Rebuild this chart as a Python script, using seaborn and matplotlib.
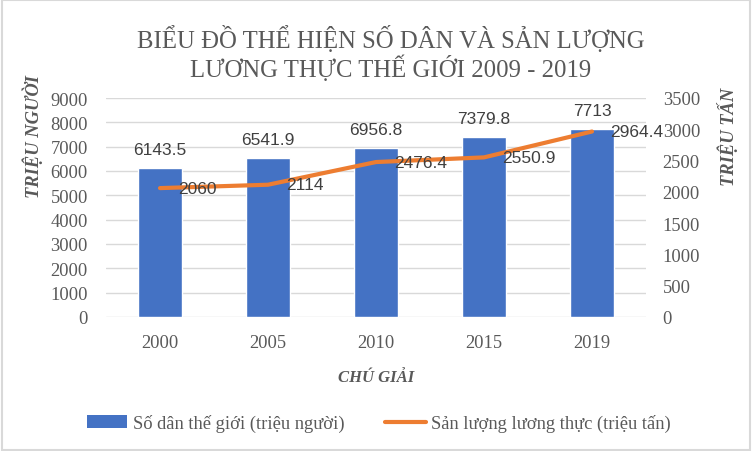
import matplotlib
matplotlib.use("Agg")
import matplotlib.pyplot as plt
import seaborn as sns
import pandas as pd
from matplotlib.patches import Rectangle
from matplotlib.lines import Line2D

years = ["2000", "2005", "2010", "2015", "2019"]
population = [6143.5, 6541.9, 6956.8, 7379.8, 7713]
food = [2060, 2114, 2476.4, 2550.9, 2964.4]
left_ticks = [0, 1000, 2000, 3000, 4000, 5000, 6000, 7000, 8000, 9000]
right_ticks = [0, 500, 1000, 1500, 2000, 2500, 3000, 3500]

title = "BIỂU ĐỒ THỂ HIỆN SỐ DÂN VÀ SẢN LƯỢNG\nLƯƠNG THỰC THẾ GIỚI 2009 - 2019"
ylabel_left = "TRIỆU NGƯỜI"
ylabel_right = "TRIỆU TẤN"
xlabel = "CHÚ GIẢI"
leg_bar = "Số dân thế giới (triệu người)"
leg_line = "Sản lượng lương thực (triệu tấn)"

BLUE = "#4472C4"
ORANGE = "#ED7D31"
GRAY = "#595959"
SERIF = "Liberation Serif"
SANS = "Liberation Sans"

sns.set_theme(style="white")
plt.rcParams["font.family"] = [SERIF, "DejaVu Sans"]

df = pd.DataFrame({"year": years, "pop": population, "food": food})

fig = plt.figure(figsize=(7.52, 4.52), dpi=100)
fig.patch.set_facecolor("white")
fig.patches.append(Rectangle((0.002, 0.003), 0.995, 0.994, transform=fig.transFigure,
                             fill=False, edgecolor="#D9D9D9", linewidth=1.5))

ax = fig.add_axes([106/752, 1-318/452, 540/752, 219/452])
sns.barplot(data=df, x="year", y="pop", color=BLUE, width=0.41, ax=ax, saturation=1, zorder=2)
ax.set_xlim(-0.5, 4.5)
ax.set_ylim(0, 9000)
ax.set_yticks(left_ticks)
ax.set_yticklabels([str(t) for t in left_ticks], fontsize=13.3, color=GRAY, fontfamily=SERIF)
ax.set_xticks(range(len(years)))
ax.set_xticklabels(years, fontsize=13.3, color=GRAY, fontfamily=SERIF)
ax.tick_params(axis="x", length=0, pad=12)
ax.tick_params(axis="y", length=0, pad=13)
ax.grid(axis="y", color="#D9D9D9", linewidth=1)
ax.set_axisbelow(True)
for s in ax.spines.values():
    s.set_visible(False)
ax.set_xlabel("")
ax.set_ylabel("")

for i, v in enumerate(population):
    ax.text(i, v + 450, f"{v:g}", ha="center", va="bottom", fontsize=12.5,
            color="#404040", fontfamily=SANS, zorder=5)

ax2 = ax.twinx()
sns.lineplot(x=list(range(len(years))), y=food, color=ORANGE, linewidth=3, ax=ax2, zorder=3)
ax2.set_ylim(0, 3500)
ax2.set_yticks(right_ticks)
ax2.set_yticklabels([str(t) for t in right_ticks], fontsize=13.3, color=GRAY, fontfamily=SERIF)
ax2.tick_params(axis="y", length=0, pad=12)
for s in ax2.spines.values():
    s.set_visible(False)
ax2.grid(False)
ax2.set_ylabel("")
for i, v in enumerate(food):
    ax2.text(i + 0.17, v, f"{v:g}", ha="left", va="center", fontsize=12.5,
             color="#404040", fontfamily=SANS, zorder=6)

fig.text(391/752, 1-54/452, title, ha="center", va="center", fontsize=17.8,
         color=GRAY, fontfamily=SERIF, linespacing=1.15)
fig.text(33/752, 1-136/452, ylabel_left, rotation=90, ha="center", va="center",
         fontsize=13.3, fontweight="bold", fontstyle="italic", color=GRAY, fontfamily=SERIF)
fig.text(728/752, 1-137/452, ylabel_right, rotation=90, ha="center", va="center",
         fontsize=13.3, fontweight="bold", fontstyle="italic", color=GRAY, fontfamily=SERIF)
fig.text(376/752, 1-378/452, xlabel, ha="center", va="center",
         fontsize=12, fontweight="bold", fontstyle="italic", color=GRAY, fontfamily=SERIF)

handles = [Rectangle((0, 0), 1, 1, facecolor=BLUE, edgecolor="none"),
           Line2D([0], [0], color=ORANGE, linewidth=3)]
fig.legend(handles, [leg_bar, leg_line], loc="center", bbox_to_anchor=(379/752, 1-424/452),
           ncol=2, frameon=False, prop={"family": SERIF, "size": 13.3},
           handlelength=2.2, handletextpad=0.3, columnspacing=2.2, labelcolor=GRAY)

fig.savefig("out.png", dpi=100)
